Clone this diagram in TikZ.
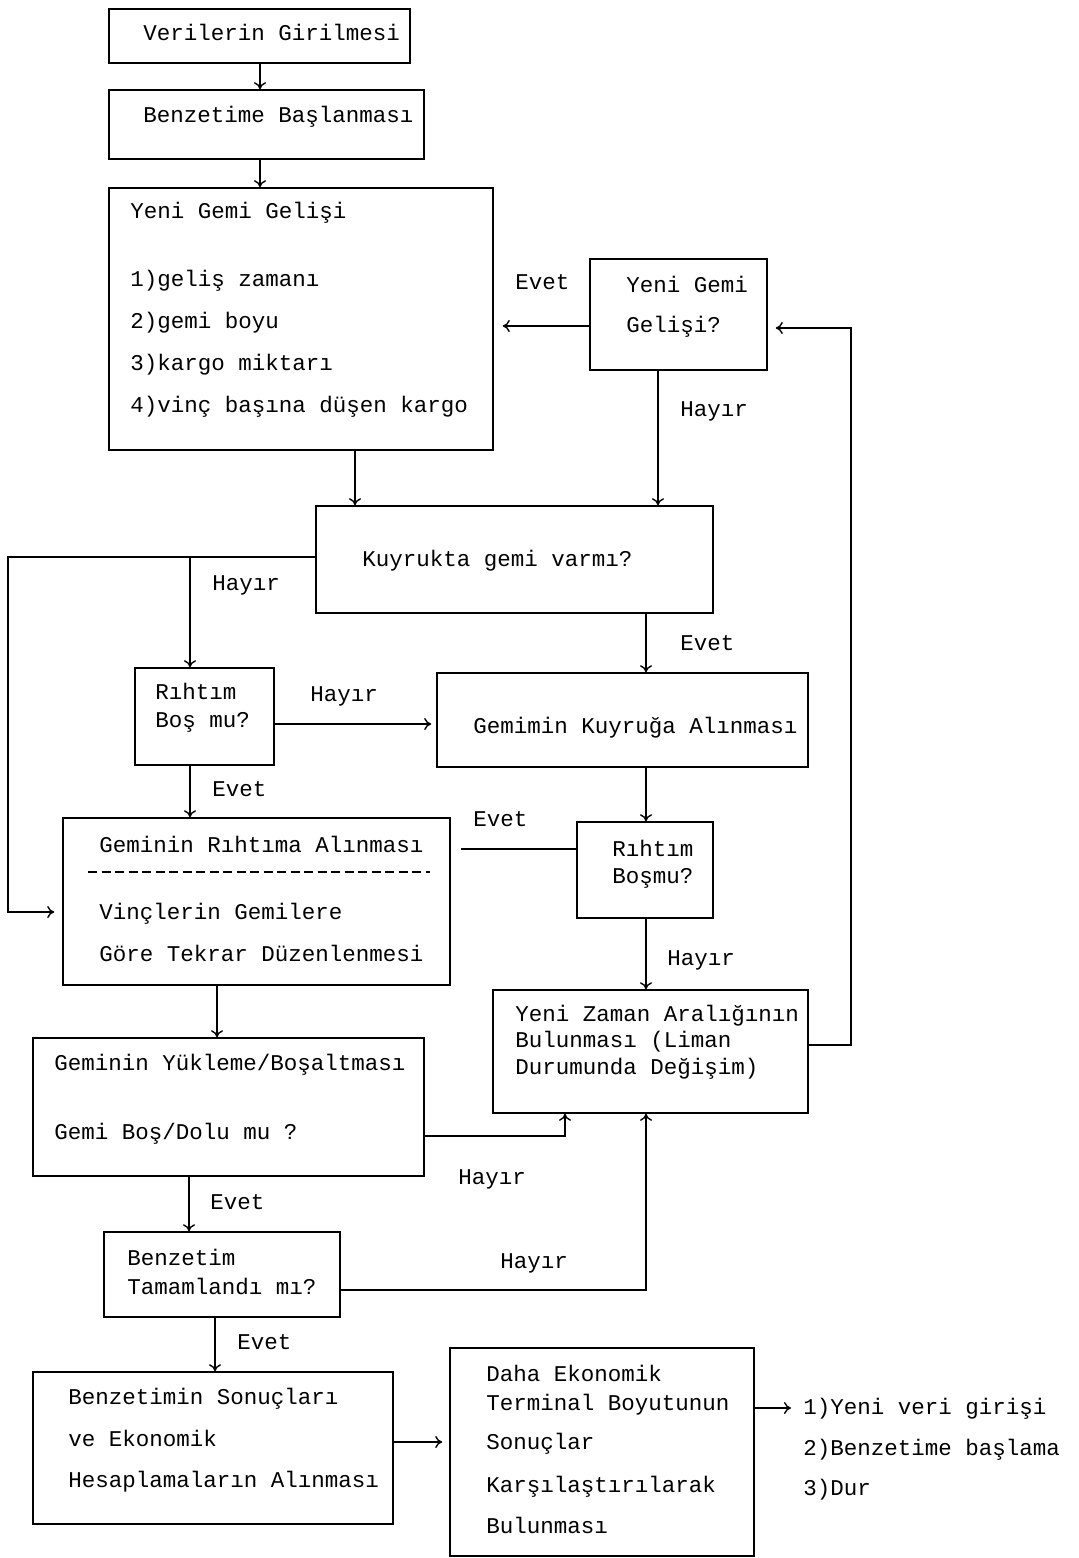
\documentclass[tikz,border=0pt]{standalone}
\usepackage{fontspec}
\setmonofont{Liberation Mono}
\usetikzlibrary{fit,arrows.meta}

\tikzset{
  box/.style={draw, line width=0.8pt, inner sep=0pt},
  txt/.style={anchor=west, inner sep=0pt, text height=8pt, text depth=2pt,
    font=\ttfamily\fontsize{11.25}{13}\selectfont},
  link/.style={line width=0.7pt},
  arr/.style={link, -{To[length=3.5pt,width=6pt]}}
}

\begin{document}
\begin{tikzpicture}[x=0.5pt, y=-0.5pt]
  \useasboundingbox (0,0) rectangle (1078,1558);

  % Boxes
  \node[box, fit={(109,9) (410,63)}] (veri) {};
  \node[box, fit={(109,90) (424,159)}] (benz) {};
  \node[box, fit={(109,188) (493,450)}] (gelis) {};
  \node[box, fit={(590,259) (767,370)}] (soru) {};
  \node[box, fit={(316,506) (713,613)}] (kuyruk) {};
  \node[box, fit={(135,668) (274,765)}] (rbos) {};
  \node[box, fit={(437,673) (808,767)}] (kuyrukal) {};
  \node[box, fit={(577,822) (713,918)}] (bosmu) {};
  \node[box, fit={(63,818) (450,985)}] (riht) {};
  \node[box, fit={(493,990) (808,1113)}] (zaman) {};
  \node[box, fit={(33,1038) (424,1176)}] (yuk) {};
  \node[box, fit={(104,1232) (340,1317)}] (tamam) {};
  \node[box, fit={(33,1372) (393,1524)}] (sonuc) {};
  \node[box, fit={(450,1348) (754,1556)}] (daha) {};

  % Texts in the boxes
  \node[txt] (t1) at (143,34) {Verilerin Girilmesi};
  \node[txt] (t2) at (143,116) {Benzetime Başlanması};
  \node[txt] (t3a) at (130,212) {Yeni Gemi Gelişi};
  \node[txt] (t3b) at (130,280) {1)geliş zamanı};
  \node[txt] (t3c) at (130,322) {2)gemi boyu};
  \node[txt] (t3d) at (130,364) {3)kargo miktarı};
  \node[txt] (t3e) at (130,406) {4)vinç başına düşen kargo};
  \node[txt] (t4a) at (626,286) {Yeni Gemi};
  \node[txt] (t4b) at (626,326) {Gelişi?};
  \node[txt] (t5) at (362,560) {Kuyrukta gemi varmı?};
  \node[txt] (t6a) at (155,693) {Rıhtım};
  \node[txt] (t6b) at (155,721) {Boş mu?};
  \node[txt] (t7) at (473,727) {Gemimin Kuyruğa Alınması};
  \node[txt] (t8a) at (612,850) {Rıhtım};
  \node[txt] (t8b) at (612,877) {Boşmu?};
  \node[txt] (t9a) at (99,846) {Geminin Rıhtıma Alınması};
  \draw[link, dash pattern=on 4.5pt off 2.25pt] (88,872) -- (430,872);
  \node[txt] (t9b) at (99,913) {Vinçlerin Gemilere};
  \node[txt] (t9c) at (99,955) {Göre Tekrar Düzenlenmesi};
  \node[txt] (t10a) at (515,1015) {Yeni Zaman Aralığının};
  \node[txt] (t10b) at (515,1041) {Bulunması (Liman};
  \node[txt] (t10c) at (515,1068) {Durumunda Değişim)};
  \node[txt] (t11a) at (54,1064) {Geminin Yükleme/Boşaltması};
  \node[txt] (t11b) at (54,1133) {Gemi Boş/Dolu mu ?};
  \node[txt] (t12a) at (127,1259) {Benzetim};
  \node[txt] (t12b) at (127,1288) {Tamamlandı mı?};
  \node[txt] (t13a) at (68,1398) {Benzetimin Sonuçları};
  \node[txt] (t13b) at (68,1440) {ve Ekonomik};
  \node[txt] (t13c) at (68,1481) {Hesaplamaların Alınması};
  \node[txt] (t14a) at (486,1375) {Daha Ekonomik};
  \node[txt] (t14b) at (486,1404) {Terminal Boyutunun};
  \node[txt] (t14c) at (486,1443) {Sonuçlar};
  \node[txt] (t14d) at (486,1486) {Karşılaştırılarak};
  \node[txt] (t14e) at (486,1527) {Bulunması};
  \node[txt] (s1) at (803,1408) {1)Yeni veri girişi};
  \node[txt] (s2) at (803,1449) {2)Benzetime başlama};
  \node[txt] (s3) at (803,1489) {3)Dur};

  % Branch labels
  \node[txt] (e1) at (515,283) {Evet};
  \node[txt] (h1) at (680,410) {Hayır};
  \node[txt] (h2) at (212,584) {Hayır};
  \node[txt] (e2) at (680,644) {Evet};
  \node[txt] (h3) at (310,695) {Hayır};
  \node[txt] (e3) at (212,790) {Evet};
  \node[txt] (e4) at (473,820) {Evet};
  \node[txt] (h4) at (667,959) {Hayır};
  \node[txt] (h5) at (458,1178) {Hayır};
  \node[txt] (e5) at (210,1203) {Evet};
  \node[txt] (h6) at (500,1262) {Hayır};
  \node[txt] (e6) at (237,1343) {Evet};

  % Bend and free end points
  \coordinate (solalt) at (8,912);
  \coordinate (sagust) at (851,328);
  \coordinate (evetuc) at (461,849);

  % Connectors
  \draw[arr] (veri.south -| 260,0) -- (benz.north -| 260,0);
  \draw[arr] (benz.south -| 260,0) -- (gelis.north -| 260,0);
  \draw[arr] (gelis.south -| 355,0) -- (kuyruk.north -| 355,0);
  \draw[arr, shorten >=4.5pt] (soru.west |- 0,326) -- (gelis.east |- 0,326);
  \draw[arr] (soru.south -| 658,0) -- (kuyruk.north -| 658,0);
  \draw[arr, shorten >=4pt] (kuyruk.west |- 0,557) -| (solalt) -- (riht.west |- solalt);
  \draw[arr] (190,557) -- (rbos.north -| 190,0);
  \draw[arr, shorten >=2.5pt] (rbos.east |- 0,724) -- (kuyrukal.west |- 0,724);
  \draw[arr] (rbos.south -| 190,0) -- (riht.north -| 190,0);
  \draw[arr] (kuyruk.south -| 646,0) -- (kuyrukal.north -| 646,0);
  \draw[arr] (kuyrukal.south -| 646,0) -- (bosmu.north -| 646,0);
  \draw[link] (bosmu.west |- evetuc) -- (evetuc);
  \draw[arr] (bosmu.south -| 646,0) -- (zaman.north -| 646,0);
  \draw[arr, shorten >=4pt] (zaman.east |- 0,1045) -| (sagust) -- (soru.east |- sagust);
  \draw[arr] (riht.south -| 217,0) -- (yuk.north -| 217,0);
  \draw[arr] (yuk.east |- 0,1136) -| (zaman.south -| 565,0);
  \draw[arr] (yuk.south -| 189,0) -- (tamam.north -| 189,0);
  \draw[arr] (tamam.east |- 0,1290) -| (zaman.south -| 646,0);
  \draw[arr] (tamam.south -| 215,0) -- (sonuc.north -| 215,0);
  \draw[arr, shorten >=3.5pt] (sonuc.east |- 0,1442) -- (daha.west |- 0,1442);
  \draw[arr, shorten >=6pt] (daha.east |- s1.west) -- (s1.west);
\end{tikzpicture}
\end{document}
